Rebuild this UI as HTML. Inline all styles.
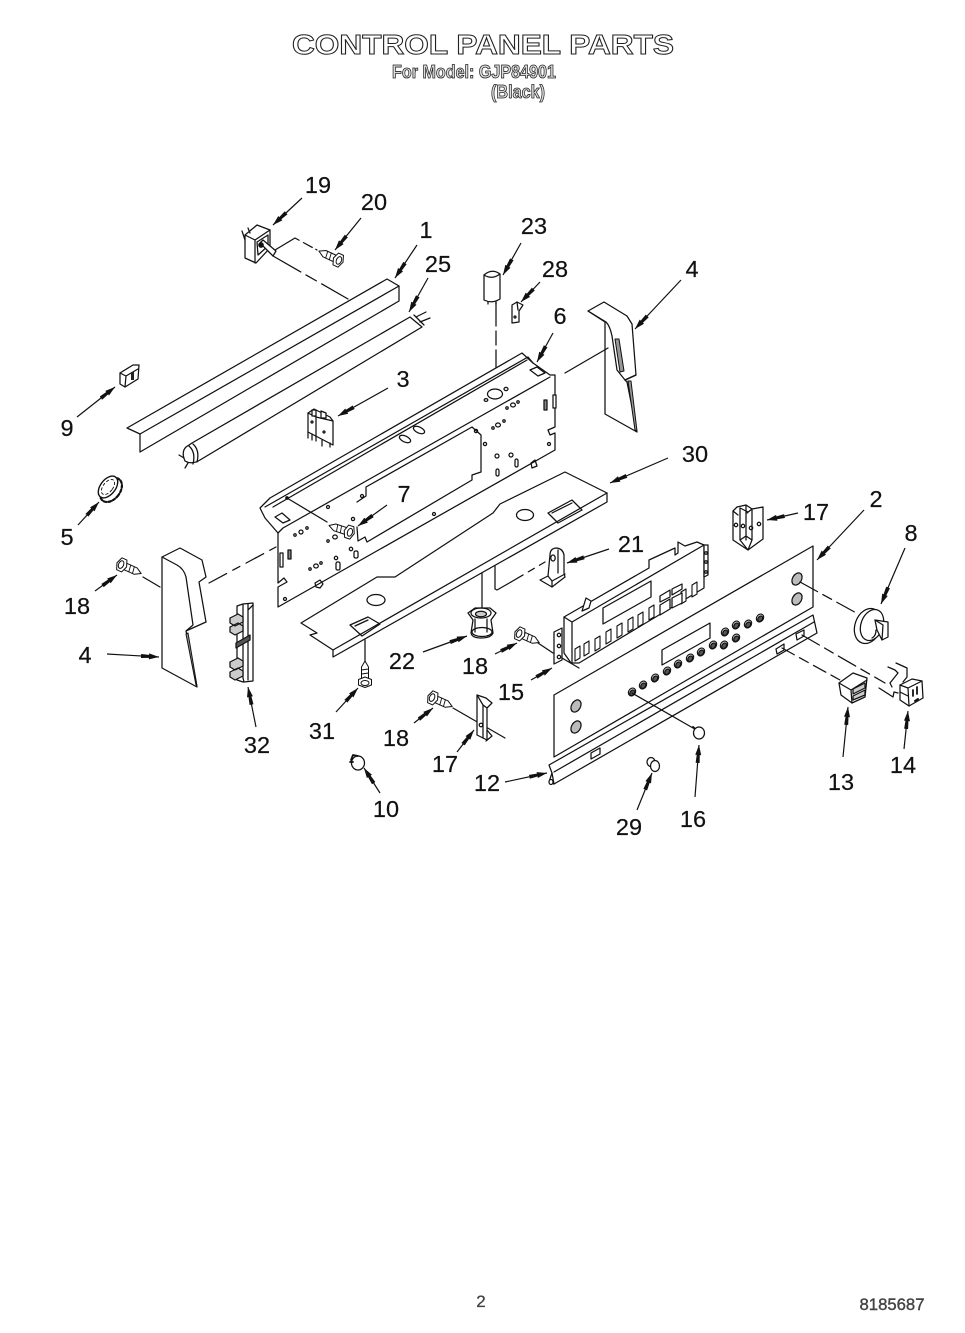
<!DOCTYPE html>
<html><head><meta charset="utf-8"><title>Control Panel Parts</title>
<style>
html,body{margin:0;padding:0;background:#fff}
svg{display:block;filter:blur(.35px)}
.l{font:23.5px "Liberation Sans",sans-serif;fill:#111;stroke:#111;stroke-width:.2;text-anchor:middle}
</style></head><body>
<svg width="965" height="1333" viewBox="0 0 965 1333" xmlns="http://www.w3.org/2000/svg">
<defs>
<marker id="a" viewBox="0 0 18 8" refX="18" refY="4" markerWidth="18" markerHeight="8" markerUnits="userSpaceOnUse" orient="auto"><path d="M0 2L8 2.5V1L18 4L8 7V5.5L0 6Z" fill="#111"/></marker>
<g id="screw" fill="#fff" stroke="#111" stroke-width="1">
<path d="M4-3.5H15L21 0L15 3.5H4Z"/>
<path d="M8-3.5L9 3.5M12-3.5L13 3.5" stroke-width=".9"/>
<path d="M-3-6.5H2.5L5 0L2.5 6.5H-3L-5.5 0Z"/>
<ellipse cx="-1" cy="0" rx="2.5" ry="4"/>
</g>
<path id="b" d="M0 0L5-3V9L0 12Z" fill="#fff" stroke="#111" stroke-width="1.1"/>
<g id="k"><ellipse rx="3.4" ry="4.2" transform="rotate(35)" fill="#fff" stroke="#111" stroke-width="1.1"/><ellipse cx=".6" cy=".5" rx="2.2" ry="3" transform="rotate(35)" fill="#555"/></g>
</defs>
<rect width="965" height="1333" fill="#fff"/>

<!-- Header -->
<text x="483" y="54" font-family="Liberation Sans,sans-serif" font-size="28" font-weight="700" fill="#fff" stroke="#222" stroke-width="1" text-anchor="middle" textLength="382" lengthAdjust="spacingAndGlyphs">CONTROL PANEL PARTS</text>
<text x="474" y="78" font-family="Liberation Sans,sans-serif" font-size="18" font-weight="700" fill="#ddd" stroke="#222" stroke-width=".8" text-anchor="middle" textLength="164" lengthAdjust="spacingAndGlyphs">For Model: GJP84901</text>
<text x="518" y="98" font-family="Liberation Sans,sans-serif" font-size="18" font-weight="700" fill="#ddd" stroke="#222" stroke-width=".8" text-anchor="middle" textLength="54" lengthAdjust="spacingAndGlyphs">(Black)</text>

<g fill="none" stroke="#111" stroke-width="1.25" stroke-linejoin="round" stroke-linecap="round">

<!-- Part 1 channel -->
<path fill="#fff" d="M127 428L387 279L399 286V301L140 452V434Z"/>
<path d="M140 434L399 286"/>

<!-- Part 25 tube -->
<path fill="#fff" d="M192 443L410 317L422 327L200 460Q192 465 185 461Q181 452 186 447Z"/>
<path d="M414 315L424 325M193 444Q200 450 197 462M189 446Q196 452 193 464M416 317L426 312M420 322L430 318"/>
<path d="M184 458L179 455M188 463L185 468"/>

<!-- Part 19 switch -->
<path fill="#fff" d="M245 235L257 225L270 230V248L256 263L245 258Z"/>
<path d="M255 240V263M245 235L255 240L270 230M242 231L245 240M248 228L250 233M257 242L268 235V246L258 255Z"/>
<path fill="#fff" d="M260 243L263 240L276 251L273 256Z"/>
<circle cx="261" cy="245" r="2.2" fill="#111"/>

<!-- Part 20 screw -->
<use href="#screw" transform="translate(338 260) rotate(205)"/>

<!-- Leaders upper -->
<path stroke-dasharray="32 6 12 6" d="M273 256L348 299"/>
<path d="M275 250L295 238L317 250" stroke-dasharray="28 5 10 4"/>
<path stroke-dasharray="24 5 14 5" d="M496 302V390"/>

<!-- Part 23 capacitor -->
<path fill="#fff" d="M484 275Q492 268 500 274V299Q492 304 484 300Z"/>
<path d="M484 275Q492 280 500 274M488 302V304M496 302V304"/>

<!-- Part 28 clip -->
<path fill="#fff" d="M512 305L517 302L523 305L519 311V322L512 323Z"/>
<path d="M517 302L518 310"/>
<circle cx="515" cy="317" r="1"/>

<!-- Part 9 -->
<path fill="#fff" d="M120 373L133 365L139 365L138 379L125 387L120 384Z"/>
<path d="M120 373L126 376L138 369M126 376L125 387"/>
<path fill="#222" stroke="none" d="M131 372h3v8h-3z"/>

<!-- Part 5 -->
<ellipse cx="111" cy="490" rx="9" ry="13.5" transform="rotate(38 111 490)" stroke-dasharray="2.6 2" stroke-width="2.2"/>
<ellipse cx="108" cy="487" rx="7.5" ry="12.5" transform="rotate(38 108 487)" fill="#fff" stroke-width="1.4"/>
<ellipse cx="108" cy="487" rx="4.8" ry="8.8" transform="rotate(38 108 487)" stroke-dasharray="2.5 2.5" stroke-width=".9"/>

<!-- Part 3 -->
<path fill="#fff" d="M308 413L316 417L333 421V445L308 432Z"/>
<path d="M308 413L314 409L330 417L333 421M316 417V441M308 432V438M312 434V440M322 440V446M330 443V447"/>
<path fill="#fff" d="M312 410h4v6h-4zM321 411l5 2v5h-5z"/>
<circle cx="312" cy="422" r="1"/><circle cx="324" cy="432" r="1"/>

<!-- Part 6 main panel -->
<path fill="#fff" d="M278 533L265 518L260 508L270 498L522 353L533 363L550 375L555 375V427L548 430L550 435L555 433V450L278 607V587L287 582L284 578L278 583Z"/>
<path d="M283 528L550 377M265 507L528 357M273 507L527 360M283 528L278 533M533 363L528 357"/>
<path d="M275 517L282 513L290 520L283 523Z"/>
<path d="M530 370L537 367L545 373L538 376Z"/>
<path d="M357 502L366 496V487L472 427L481 435V472L472 475V480L367 542L365 537L358 541L357 527"/>
<rect x="280" y="553" width="3" height="14" fill="#fff"/>
<rect x="553" y="395" width="3" height="13" fill="#fff"/>
<rect x="544" y="400" width="3" height="10" fill="#888"/>
<rect x="288" y="550" width="3" height="9" fill="#888"/>
<ellipse cx="495" cy="394" rx="7.5" ry="5" fill="#fff"/>
<ellipse cx="486" cy="400" rx="1.8" ry="1.4"/><ellipse cx="506" cy="389" rx="2" ry="1.6"/>
<ellipse cx="405" cy="439" rx="6" ry="3" transform="rotate(25 405 439)"/>
<ellipse cx="419" cy="430" rx="6" ry="3" transform="rotate(25 419 430)"/>
<ellipse cx="513" cy="405" rx="2.4" ry="2"/><ellipse cx="507" cy="408" rx="1.2" ry="1.2"/><ellipse cx="518" cy="402" rx="1.2" ry="1.2"/>
<ellipse cx="498" cy="425" rx="2.4" ry="2"/><ellipse cx="493" cy="428" rx="1.2" ry="1.2"/><ellipse cx="504" cy="421" rx="1.2" ry="1.2"/>
<circle cx="476" cy="431" r="1.6"/><circle cx="485" cy="444" r="1.6"/><circle cx="549" cy="444" r="1.5"/>
<ellipse cx="497" cy="456" rx="2" ry="2"/><rect x="496" y="469" width="3" height="7" rx="1.5"/><rect x="515" y="459" width="3" height="8" rx="1.5"/><ellipse cx="511" cy="455" rx="2" ry="2"/>
<path d="M531 463L535 460L537 466L532 468Z"/>
<ellipse cx="301" cy="532" rx="2" ry="2"/><ellipse cx="295" cy="535" rx="1.2" ry="1.2"/><ellipse cx="307" cy="528" rx="1.2" ry="1.2"/>
<ellipse cx="335" cy="537" rx="2.3" ry="2"/><ellipse cx="328" cy="541" rx="1.2" ry="1.2"/>
<ellipse cx="316" cy="566" rx="2.3" ry="2"/><ellipse cx="310" cy="569" rx="1.2" ry="1.2"/><ellipse cx="321" cy="563" rx="1.2" ry="1.2"/>
<circle cx="336" cy="558" r="1.7"/><rect x="336" y="562" width="4" height="8" rx="1.5"/><circle cx="351" cy="549" r="1.7"/><rect x="354" y="551" width="4" height="7" rx="1.5"/>
<circle cx="328" cy="507" r="1.5"/><circle cx="353" cy="519" r="1.6"/><circle cx="362" cy="496" r="1.5"/>
<circle cx="285" cy="599" r="1.5"/><path d="M315 583L320 580L323 584L320 588L316 587Z"/><circle cx="434" cy="514" r="1.5"/>

<!-- Part 7 screw -->
<path d="M287 498L327 522"/>
<circle cx="287" cy="498" r="1.2" fill="#111"/>
<use href="#screw" transform="translate(349 532) rotate(198)"/>

<!-- Part 4 upper right -->
<path fill="#fff" d="M588 311L604 302L627 316L632 324L636 375L625 380L627 382L637 432L605 414V322Z"/>
<path d="M588 311L606 322Q610 326 612 336L617 370L625 380L636 375"/>
<path fill="#999" stroke-width="1" d="M615 339L619 339L624 371L620 372Z"/>
<path fill="#999" stroke-width="1" d="M628 381L631 381L637 431L635 430Z"/>
<path d="M565 373L608 348"/>

<!-- Part 4 left -->
<path fill="#fff" d="M162 557L180 548L202 560L206 577L199 582L206 622L186 631L197 687L162 668Z"/>
<path d="M162 557L177 565Q184 569 186 577L193 625L186 631"/>
<path fill="#999" stroke-width="1" d="M186 634L188 633L197 686L196 685Z"/>
<path stroke-dasharray="20 7 8 7" d="M209 583L276 547"/>
<path d="M143 577L160 587"/>
<use href="#screw" transform="translate(122 565) rotate(24)"/>

<!-- Part 32 -->
<path fill="#fff" d="M243 604L253 603V681L244 682L243 678Z"/>
<path d="M248 604V680M243 604L237 606V680L243 682M253 605L248 610"/>
<path fill="#ccc" d="M230 618L238 614L243 617V622L235 626L230 623ZM230 627L238 623L243 626V631L235 635L230 632Z"/>
<path fill="#555" d="M236 643L250 635V640L236 648Z"/>
<path fill="#ccc" d="M230 662L238 658L243 661V666L235 670L230 667ZM230 672L238 668L243 671V676L235 680L230 677Z"/>

<!-- Part 30 plate -->
<path fill="#fff" d="M301 623L377 577L395 577L493 513L500 504L565 472L607 493V502L333 657V650L310 635L317 633Z"/>
<path d="M333 650L607 493"/>
<ellipse cx="525" cy="515" rx="8.5" ry="5.5"/>
<ellipse cx="376" cy="600" rx="9" ry="5.5"/>
<path d="M350 625L368 617L380 624L362 636ZM355 626L368 620"/>
<path d="M548 513L572 500L582 510L558 523ZM552 513L572 503"/>

<!-- Leaders mid -->
<path d="M365 640V662"/>
<path d="M482 573V608"/>
<path d="M495 566V589L497 590L511 582"/>
<path stroke-dasharray="14 6 7 6" d="M511 582L545 562"/>

<!-- Part 31 screw -->
<use href="#screw" transform="translate(365 682) rotate(-90)"/>

<!-- Part 22 -->
<path fill="#fff" d="M468 613L475 608H490L496 613L491 620L493 633Q491 638 481 638Q472 638 471 633L473 620Z"/>
<ellipse cx="481" cy="613" rx="10" ry="5"/><ellipse cx="481" cy="614" rx="5.5" ry="2.8" fill="#ccc"/>
<path d="M475 619V632M487 619V632"/>
<ellipse cx="482" cy="632" rx="10" ry="4.5"/>

<!-- Part 21 -->
<path fill="#fff" d="M550 555Q550 548 557 548Q563 549 564 555V573L565 577L552 587L540 580L548 576Z"/>
<path d="M548 576L552 581V587M552 581L565 574M558 550V573"/>
<ellipse cx="553" cy="558" rx="2.2" ry="3"/>

<!-- Part 18 screws -->
<use href="#screw" transform="translate(520 634) rotate(24)"/>
<use href="#screw" transform="translate(433 698) rotate(24)"/>
<path d="M538 643L553 653M453 708L505 738"/>

<!-- Part 17 lower -->
<path fill="#fff" d="M477 695L486 698L492 703L487 708V740L477 735Z"/>
<path d="M477 695L483 705V738M483 705L487 708M487 730L492 736L486 741"/>
<circle cx="481" cy="725" r="1.8"/>

<!-- Part 17 upper -->
<path fill="#fff" d="M733 511L737 507L746 505L752 509L763 507V539L748 550L733 540Z"/>
<path d="M740 508V540L748 550M752 509V540L748 550M746 505V540M748 512L740 508M752 509L747 513M740 540L746 536L752 540M733 511L738 515"/>
<circle cx="736" cy="525" r="1.7"/><circle cx="743" cy="526" r="1.7"/><circle cx="751" cy="528" r="1.7"/><circle cx="759" cy="524" r="1.7"/>

<!-- Part 15 board -->
<path fill="#fff" d="M564 617L649 568V560L675 548V555L678 553V542L685 546L697 542L704 545V588L579 663L571 663L564 653Z"/>
<path d="M572 622V662M564 617L572 622L704 545"/>
<path fill="#fff" d="M704 545H708V575L704 577Z"/>
<path fill="#fff" d="M554 632L562 628V660L554 664Z"/>
<circle cx="559" cy="635" r="1.7"/><circle cx="559" cy="646" r="1.7"/><circle cx="559" cy="657" r="1.7"/>
<circle cx="706" cy="553" r="1.3"/><circle cx="706" cy="562" r="1.3"/><circle cx="706" cy="572" r="1.3"/>
<path fill="#fff" d="M582 611L586 598L591 601L589 608Z"/>
<path d="M562 658L579 668"/>
<path d="M603 608L651 581V597L603 624Z"/>
<use href="#b" x="575" y="649"/><use href="#b" x="584" y="644"/><use href="#b" x="595" y="639"/><use href="#b" x="606" y="632"/><use href="#b" x="617" y="626"/><use href="#b" x="628" y="620"/><use href="#b" x="638" y="615"/><use href="#b" x="649" y="608"/><use href="#b" x="681" y="592"/><use href="#b" x="692" y="585"/>
<path d="M660 596L670 590V597L660 602ZM672 589L682 584V589L672 595ZM660 605L670 599V609L660 615ZM672 598L682 593V603L672 608Z" fill="#fff"/>

<!-- Part 2 faceplate -->
<path fill="#fff" d="M554 695L813 546V607L554 757Z"/>
<ellipse cx="576" cy="706" rx="4.5" ry="6.5" transform="rotate(30 576 706)" fill="#bbb"/>
<ellipse cx="576" cy="727" rx="4.5" ry="6.5" transform="rotate(30 576 727)" fill="#bbb"/>
<ellipse cx="797" cy="579" rx="4.5" ry="6.5" transform="rotate(30 797 579)" fill="#bbb"/>
<ellipse cx="797" cy="599" rx="4.5" ry="6.5" transform="rotate(30 797 599)" fill="#bbb"/>
<path d="M662 650L710 623V638L662 665Z"/>
<use href="#k" x="632" y="692"/><use href="#k" x="643" y="685"/><use href="#k" x="655" y="678"/><use href="#k" x="667" y="671"/><use href="#k" x="678" y="664"/><use href="#k" x="690" y="658"/><use href="#k" x="701" y="652"/><use href="#k" x="713" y="645"/><use href="#k" x="724" y="645"/><use href="#k" x="736" y="638"/><use href="#k" x="725" y="632"/><use href="#k" x="736" y="625"/><use href="#k" x="748" y="624"/><use href="#k" x="760" y="618"/>

<!-- Part 12 strip -->
<path fill="#fff" d="M549 765L813 615L817 633L554 784L549 782L552 773Z"/>
<path d="M554 772L814 622M552 773L554 784"/>
<path d="M591 753L600 748V754L591 759ZM776 649L784 644V650L777 654ZM796 634L804 630V636L797 640Z" fill="#fff"/>
<ellipse cx="551" cy="782" rx="2" ry="2.5" fill="#fff"/>

<!-- Leaders 16, 8, 13, 14 -->
<path d="M632 693L693 728"/>
<path stroke-dasharray="20 6 10 6" d="M800 582L860 615"/>
<path stroke-dasharray="14 6 10 6" d="M782 648L840 680"/>
<path stroke-dasharray="20 6 10 6" d="M802 635L885 683"/>

<!-- Part 16 -->
<path d="M693 727L697 731" stroke-width="2"/>
<ellipse cx="699" cy="733" rx="5.5" ry="6" fill="#fff"/>

<!-- Part 29 -->
<ellipse cx="651" cy="762" rx="4" ry="4.5" fill="#fff"/>
<ellipse cx="655" cy="766" rx="4.5" ry="5.5" fill="#fff"/>

<!-- Part 10 -->
<ellipse cx="358" cy="763" rx="6.5" ry="7" fill="#fff"/>
<path d="M351 760L353 755L358 756M350 762L353 762" stroke-width="1.8"/>

<!-- Part 8 knob -->
<ellipse cx="868" cy="626" rx="13" ry="18" transform="rotate(20 868 626)" fill="#fff"/>
<ellipse cx="872" cy="625" rx="11" ry="16" transform="rotate(20 872 625)" fill="#fff"/>
<path fill="#fff" d="M875 620L888 622V637L882 640L877 630Z"/>
<path d="M882 640L883 625L875 620M876 630Q876 636 872 638"/>

<!-- Part 13 -->
<path fill="#fff" d="M839 683L853 673L867 678L865 697L852 703L841 695Z"/>
<path d="M839 683L851 690L867 680M851 690L852 703"/>
<path fill="#ccc" d="M853 689L865 683V688L853 694ZM853 696L865 690V695L853 700Z"/>

<!-- Part 14 -->
<path fill="#fff" d="M900 685L912 679L922 681L923 698L909 706L900 700Z"/>
<path d="M900 685L908 688L922 681M908 688L909 706M900 692L908 696"/>
<path d="M913 690V696M917 687V694" stroke-width="1.8"/>
<path d="M915 701L918 699" stroke-width="2"/>
<path d="M888 667L895 670L898 673L890 683L892 687M896 663L907 668V677L903 682"/>
<path d="M879 688L893 697L894 692L898 693"/>
</g>

<!-- Arrows -->
<g stroke="#111" stroke-width="1.2" fill="none">
<path marker-end="url(#a)" d="M302 198L273 225"/>
<path marker-end="url(#a)" d="M361 218L335 250"/>
<path marker-end="url(#a)" d="M417 245L395 278"/>
<path marker-end="url(#a)" d="M428 278L409 312"/>
<path marker-end="url(#a)" d="M521 243L503 275"/>
<path marker-end="url(#a)" d="M540 282L521 302"/>
<path marker-end="url(#a)" d="M553 333L537 362"/>
<path marker-end="url(#a)" d="M681 280L635 329"/>
<path marker-end="url(#a)" d="M388 388L338 416"/>
<path marker-end="url(#a)" d="M77 417L115 387"/>
<path marker-end="url(#a)" d="M78 525L99 502"/>
<path marker-end="url(#a)" d="M387 505L358 526"/>
<path marker-end="url(#a)" d="M668 458L610 483"/>
<path marker-end="url(#a)" d="M798 513L767 520"/>
<path marker-end="url(#a)" d="M864 510L817 560"/>
<path marker-end="url(#a)" d="M905 548L881 604"/>
<path marker-end="url(#a)" d="M609 549L567 563"/>
<path marker-end="url(#a)" d="M95 591L117 575"/>
<path marker-end="url(#a)" d="M107 654L159 657"/>
<path marker-end="url(#a)" d="M256 727L248 687"/>
<path marker-end="url(#a)" d="M423 652L467 636"/>
<path marker-end="url(#a)" d="M495 654L517 643"/>
<path marker-end="url(#a)" d="M531 680L552 668"/>
<path marker-end="url(#a)" d="M336 712L358 688"/>
<path marker-end="url(#a)" d="M414 723L433 708"/>
<path marker-end="url(#a)" d="M457 752L474 730"/>
<path marker-end="url(#a)" d="M505 782L547 773"/>
<path marker-end="url(#a)" d="M380 793L364 768"/>
<path marker-end="url(#a)" d="M637 810L652 773"/>
<path marker-end="url(#a)" d="M695 797L699 745"/>
<path marker-end="url(#a)" d="M843 757L848 707"/>
<path marker-end="url(#a)" d="M904 749L908 711"/>
</g>

<!-- Labels -->
<text class="l" x="318" y="193">19</text>
<text class="l" x="374" y="210">20</text>
<text class="l" x="426" y="238">1</text>
<text class="l" x="438" y="272">25</text>
<text class="l" x="534" y="234">23</text>
<text class="l" x="555" y="277">28</text>
<text class="l" x="692" y="277">4</text>
<text class="l" x="560" y="324">6</text>
<text class="l" x="403" y="387">3</text>
<text class="l" x="67" y="436">9</text>
<text class="l" x="67" y="545">5</text>
<text class="l" x="404" y="502">7</text>
<text class="l" x="695" y="462">30</text>
<text class="l" x="816" y="520">17</text>
<text class="l" x="876" y="507">2</text>
<text class="l" x="911" y="541">8</text>
<text class="l" x="631" y="552">21</text>
<text class="l" x="77" y="614">18</text>
<text class="l" x="85" y="663">4</text>
<text class="l" x="402" y="669">22</text>
<text class="l" x="475" y="674">18</text>
<text class="l" x="511" y="700">15</text>
<text class="l" x="257" y="753">32</text>
<text class="l" x="322" y="739">31</text>
<text class="l" x="396" y="746">18</text>
<text class="l" x="445" y="772">17</text>
<text class="l" x="487" y="791">12</text>
<text class="l" x="386" y="817">10</text>
<text class="l" x="841" y="790">13</text>
<text class="l" x="903" y="773">14</text>
<text class="l" x="629" y="835">29</text>
<text class="l" x="693" y="827">16</text>

<!-- Footer -->
<text x="481" y="1307" font-family="Liberation Sans,sans-serif" font-size="17" fill="#444" stroke="#444" stroke-width=".3" text-anchor="middle">2</text>
<text x="892" y="1310" font-family="Liberation Sans,sans-serif" font-size="17" fill="#444" stroke="#444" stroke-width=".4" text-anchor="middle" textLength="65" lengthAdjust="spacingAndGlyphs">8185687</text>
</svg>
</body></html>
